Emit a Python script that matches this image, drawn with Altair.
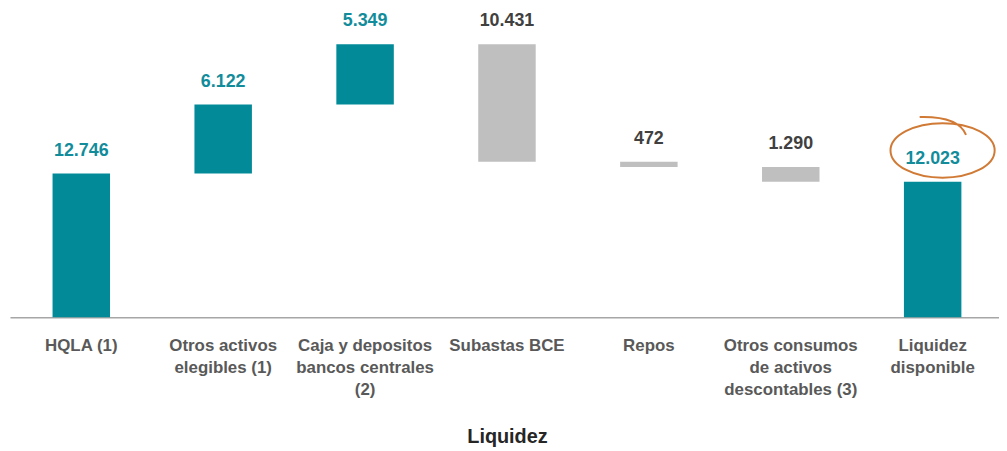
import altair as alt
import pandas as pd

categories = [
    "HQLA (1)",
    "Otros activos\nelegibles (1)",
    "Caja y depositos\nbancos centrales\n(2)",
    "Subastas BCE",
    "Repos",
    "Otros consumos\nde activos\ndescontables (3)",
    "Liquidez\ndisponible",
]
values = [12746, 6122, 5349, -10431, -472, -1290, 12023]
kinds = ["total", "delta", "delta", "delta", "delta", "delta", "total"]
value_labels = ["12.746", "6.122", "5.349", "10.431", "472", "1.290", "12.023"]

TEAL = "#028A99"
GREY = "#BFBFBF"
TEXT_TEAL = "#128C9B"
TEXT_DARK = "#404040"
FONT = "Liberation Sans"

rows = []
running = 0
for cat, v, k, lab in zip(categories, values, kinds, value_labels):
    if k == "total":
        start, end = 0, v
        running = v
    else:
        start, end = running, running + v
        running += v
    neg = v < 0
    rows.append({
        "cat": cat,
        "start": start,
        "end": end,
        "top": max(start, end),
        "label": lab,
        "fill": GREY if neg else TEAL,
        "tcolor": TEXT_DARK if neg else TEXT_TEAL,
    })
df = pd.DataFrame(rows)

x_scale = alt.Scale(range=[0, 1002], paddingInner=0.595, paddingOuter=0.3)
y_scale = alt.Scale(domain=[0, 27000], nice=False, zero=True)

x_axis = alt.Axis(
    title="Liquidez",
    labelAngle=0,
    labelExpr="split(datum.label, '\\n')",
    labelFont=FONT,
    labelFontSize=17,
    labelFontWeight="bold",
    labelColor="#595959",
    labelLineHeight=22.5,
    labelPadding=20,
    labelOverlap=False,
    labelLimit=0,
    ticks=False,
    tickSize=0,
    domainColor="#A6A6A6",
    domainWidth=1.5,
    titleFont=FONT,
    titleFontSize=20,
    titleFontWeight="bold",
    titleColor="#262626",
    titlePadding=29,
)

base = alt.Chart(df)

bars = base.mark_bar().encode(
    x=alt.X("cat:N", sort=categories, scale=x_scale, axis=x_axis),
    y=alt.Y("start:Q", scale=y_scale, axis=None),
    y2="end:Q",
    color=alt.Color("fill:N", scale=None),
)

texts = base.mark_text(
    dy=-23, font=FONT, fontSize=18, fontWeight="bold", baseline="middle"
).encode(
    x=alt.X("cat:N", sort=categories),
    y=alt.Y("top:Q"),
    text="label:N",
    color=alt.Color("tcolor:N", scale=None),
)

ellipse_path = (
    "M 1 0 C 1 -0.29 0.552 -0.524 0 -0.524 C -0.552 -0.524 -1 -0.29 -1 0 "
    "C -1 0.29 -0.552 0.524 0 0.524 C 0.552 0.524 1 0.29 1 0 Z "
    "M -0.44 -0.64 Q 0.3 -0.66 0.45 -0.3"
)

ellipse = base.transform_filter(
    alt.datum.cat == categories[-1]
).mark_point(
    shape=ellipse_path,
    size=11025,
    filled=False,
    stroke="#D07A35",
    strokeWidth=2,
    opacity=1,
    xOffset=10,
    yOffset=-31.5,
).encode(
    x=alt.X("cat:N", sort=categories),
    y=alt.Y("top:Q"),
)

chart = alt.layer(bars, texts, ellipse).properties(
    width=997,
    height=307,
    autosize=alt.AutoSizeParams(type="none"),
    padding={"left": 2, "top": 3, "right": 0, "bottom": 132},
    background="white",
).configure_view(stroke=None)

chart.save("out.html", embed_options={"renderer": "svg", "actions": False})
